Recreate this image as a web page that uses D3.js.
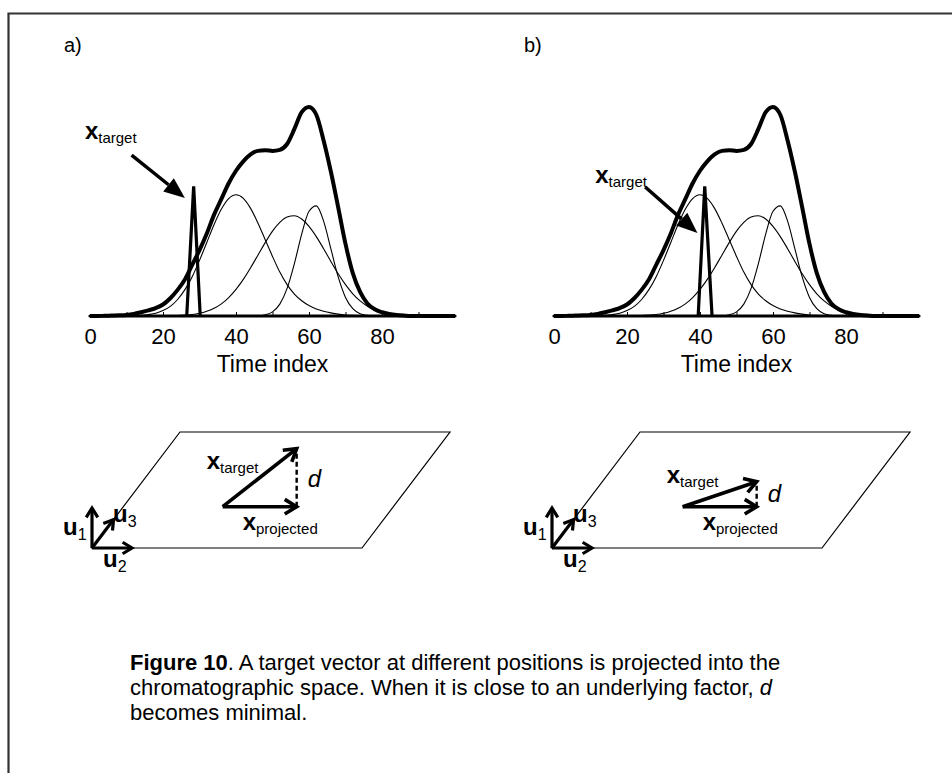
<!DOCTYPE html>
<html><head><meta charset="utf-8">
<script src="https://cdn.jsdelivr.net/npm/d3@7"></script>
<style>
body{margin:0;background:#fff}
svg{display:block}
text{font-family:"Liberation Sans",Arial,Helvetica,sans-serif;fill:#000}
</style>
</head><body>
<svg id="c" width="952" height="773"></svg>
<script>
// ---------------- data ----------------
const timeIdx = [0,2,4,6,8,10,12,14,16,18,20,22,24,26,28,30,32,34,36,38,40,42,44,46,48,50,52,54,56,58,60,62,64,66,68,70,72,74,76,78,80,82,84,86,88,90,92,94,96,98,100];
const totalSignal = [0,0,0.1,0.2,0.3,0.5,1.0,1.8,2.7,3.8,5.5,
  8.5,12.5,17.5,24.5,31.5,39.5,48.5,56,63.5,69.5,
  74,77.3,79,79.3,79,79.5,82.3,89.5,97.5,100,
  96.3,84,69,52,34.5,20.5,11.5,6,3.2,1.8,
  1.0,0.5,0.2,0,0,0,0,0,0,0];
const factor1 = [0,0,0,0,0,0,0.1,0.3,0.7,1.3,2.6,
  4.6,7.9,12.6,18.8,26.6,35.2,43.8,51.2,56.2,58,
  56.3,51.5,44.5,36.5,28.5,21,15,10.5,7.3,5,
  3.4,2.3,1.5,0.9,0.5,0.3,0.15,0,0,0,
  0,0,0,0,0,0,0,0,0,0];
const factor2 = [0,0,0,0,0,0,0,0,0,0,0.05,
  0.1,0.2,0.4,0.7,1.3,2.3,3.7,5.8,8.8,12.7,
  17.5,23.1,29.1,35.1,40.6,44.8,47.4,48,46.4,42.9,
  38,32.2,26.1,20.2,15,10.6,7.2,4.7,2.9,1.7,
  1.0,0.5,0.3,0.1,0,0,0,0,0,0];
const factor3 = [0,0,0,0,0,0,0,0,0,0,0,
  0,0,0,0,0,0,0,0,0,0,
  0,0,0.1,0.6,2,5.7,13.2,25.1,39.2,50.1,
  52.7,45.4,32.1,18.7,8.9,3.5,1.1,0.3,0,0,
  0,0,0,0,0,0,0,0,0,0];
const targetA_x = [26.5, 28.4, 30.2];
const targetB_x = [39.5, 41.3, 43.3];
const target_y  = [0, 62, 0];
const tickLabels = [0, 20, 40, 60, 80];
const minorTicks = [10, 20, 30, 40, 50, 60, 70, 80, 90];
const panelNames = ["a)", "b)"];
// diagram: projected vector in plane units, out-of-plane height of target (px)
const projStart = [0.368, 0.356];
const projEnd   = [0.642, 0.356];
const dHeight   = [58, 25];

// ---------------- drawing ----------------
const svg = d3.select("#c");
const FONT = '"Liberation Sans",Arial,Helvetica,sans-serif';

// frame (left and top edge)
svg.append("path").attr("d","M8.5,780 L8.5,13.5 L960,13.5")
  .attr("fill","none").attr("stroke","#333").attr("stroke-width",2.2);

const Y0 = 316, YTOP = 107;
const panels = [
  {x0: 90,  name: panelNames[0], tx: targetA_x, lab:[-1.4, 84.7], arr:[[11.4,77],[26,56.5]], nameX: 64},
  {x0: 554, name: panelNames[1], tx: targetB_x, lab:[11.3, 63.6], arr:[[25,61.7],[39.3,39.7]], nameX: 524}
];

function arrowHeadFilled(g, x1, y1, x2, y2, len, half){
  const a = Math.atan2(y2-y1, x2-x1);
  const bx = x2 - len*Math.cos(a), by = y2 - len*Math.sin(a);
  const px = -Math.sin(a)*half, py = Math.cos(a)*half;
  g.append("path").attr("d",`M${x2},${y2} L${bx+px},${by+py} L${bx-px},${by-py} Z`).attr("fill","#000");
  return [bx, by];
}

panels.forEach((p, i) => {
  const g = svg.append("g");
  const x = d3.scaleLinear().domain([0,100]).range([p.x0, p.x0+365]);
  const y = d3.scaleLinear().domain([0,100]).range([Y0, YTOP]);

  g.append("text").attr("x", p.nameX).attr("y", 52).attr("font-size", 20).text(p.name);

  const line = d3.line().x((d,k)=>x(timeIdx[k])).y(d=>y(d)).curve(d3.curveMonotoneX);
  [factor1, factor2, factor3].forEach(f => {
    g.append("path").attr("d", line(f)).attr("fill","none").attr("stroke","#000").attr("stroke-width",1.1);
  });
  g.append("path").attr("d", line(totalSignal)).attr("fill","none").attr("stroke","#000")
    .attr("stroke-width",4).attr("stroke-linejoin","round");

  // target spike
  const spike = d3.line().x((d,k)=>x(p.tx[k])).y(d=>y(d));
  g.append("path").attr("d", spike(target_y)).attr("fill","none").attr("stroke","#000")
    .attr("stroke-width",3.2).attr("stroke-linejoin","miter");

  // axis
  const ax = g.append("g").attr("transform",`translate(0,${Y0})`);
  ax.call(d3.axisBottom(x).tickValues(minorTicks).tickSize(-4).tickFormat(""));
  ax.select(".domain").remove();
  ax.selectAll(".tick line").attr("stroke","#000").attr("stroke-width",1);
  g.append("line").attr("x1",x(0)).attr("x2",x(100)).attr("y1",Y0).attr("y2",Y0)
    .attr("stroke","#000").attr("stroke-width",3.2).attr("stroke-linecap","round");
  const lab = g.append("g").attr("transform",`translate(0,${Y0})`);
  lab.call(d3.axisBottom(x).tickValues(tickLabels).tickSize(0).tickPadding(11).tickFormat(d3.format("d")));
  lab.select(".domain").remove();
  lab.selectAll("text").attr("font-size",22).attr("font-family",FONT).attr("fill","#000").attr("dy","0.75em");

  g.append("text").attr("x", x(50)).attr("y", 372).attr("text-anchor","middle")
    .attr("font-size",23).text("Time index");

  // x_target label + arrow
  const t = g.append("text").attr("x", x(p.lab[0])).attr("y", y(p.lab[1]));
  t.append("tspan").attr("font-weight","bold").attr("font-size",24).text("x");
  t.append("tspan").attr("font-size",15).attr("dy",4).text("target");
  const [a0, a1] = p.arr;
  const X1 = x(a0[0]), Y1 = y(a0[1]), X2 = x(a1[0]), Y2 = y(a1[1]);
  const [bx, by] = arrowHeadFilled(g, X1, Y1, X2, Y2, 21, 8.5);
  g.append("line").attr("x1",X1).attr("y1",Y1).attr("x2",bx).attr("y2",by)
    .attr("stroke","#000").attr("stroke-width",3.5);
});

// ---------------- projection diagrams ----------------
function chevron(g, x1, y1, x2, y2, len, sw){
  const a = Math.atan2(y2-y1, x2-x1);
  const s = 0.55;
  const p1 = [x2 - len*Math.cos(a - s), y2 - len*Math.sin(a - s)];
  const p2 = [x2 - len*Math.cos(a + s), y2 - len*Math.sin(a + s)];
  g.append("line").attr("x1",x1).attr("y1",y1).attr("x2",x2).attr("y2",y2)
    .attr("stroke","#000").attr("stroke-width",sw);
  g.append("path").attr("d",`M${p1[0]},${p1[1]} L${x2},${y2} L${p2[0]},${p2[1]}`)
    .attr("fill","none").attr("stroke","#000").attr("stroke-width",sw).attr("stroke-linejoin","miter");
}
function subLabel(g, xx, yy, main, sub, mainSize, subSize, dy){
  const t = g.append("text").attr("x", xx).attr("y", yy);
  t.append("tspan").attr("font-weight","bold").attr("font-size",mainSize).text(main);
  t.append("tspan").attr("font-size",subSize).attr("dy",dy).text(sub);
}

[92, 552].forEach((ox, i) => {
  const oy = 548;
  const g = svg.append("g");
  const W = 270, DX = 88, DY = -116;
  const P = (a, b) => [ox + a*W + b*DX, oy + b*DY];
  const corners = [[0,0],[1,0],[1,1],[0,1]].map(c => P(c[0], c[1]));
  g.append("path").attr("d", d3.line()(corners) + "Z").attr("fill","none")
    .attr("stroke","#000").attr("stroke-width",1.2);

  // basis vectors
  chevron(g, ox, oy, ox, oy-40, 11, 3.2);
  chevron(g, ox, oy, ox+40, oy, 11, 3.2);
  const u3 = P(0, 0.245);
  chevron(g, ox, oy, u3[0], u3[1], 11, 3.2);
  subLabel(g, ox-29, oy-13, "u", "1", 24, 16, 5);
  subLabel(g, ox+21, oy-26, "u", "3", 24, 16, 5);
  subLabel(g, ox+11, oy+19, "u", "2", 24, 16, 5);

  // projected / target vectors
  const s = P(projStart[0], projStart[1]);
  const e = P(projEnd[0], projEnd[1]);
  const h = dHeight[i];
  g.append("line").attr("x1",e[0]).attr("y1",e[1]).attr("x2",e[0]).attr("y2",e[1]-h)
    .attr("stroke","#000").attr("stroke-width",2.4).attr("stroke-dasharray","5,3");
  chevron(g, s[0], s[1], e[0], e[1], 14, 3.6);
  chevron(g, s[0], s[1], e[0], e[1]-h, 14, 3.6);

  subLabel(g, e[0]-54, e[1]+23, "x", "projected", 24, 15, 4);
  subLabel(g, s[0]-16, e[1]-h+ (i===0 ? 20 : 1), "x", "target", 24, 15, 4);
  g.append("text").attr("x", e[0]+11).attr("y", e[1]-h/2+ (i===0 ? 9 : 8))
    .attr("font-style","italic").attr("font-size",24).text("d");
});

// ---------------- caption ----------------
const cap = svg.append("g").attr("font-size",22);
const l1 = cap.append("text").attr("x",130).attr("y",670);
l1.append("tspan").attr("font-weight","bold").text("Figure 10");
l1.append("tspan").text(". A target vector at different positions is projected into the");
const l2 = cap.append("text").attr("x",130).attr("y",695);
l2.append("tspan").text("chromatographic space. When it is close to an underlying factor, ");
l2.append("tspan").attr("font-style","italic").text("d");
cap.append("text").attr("x",130).attr("y",720).text("becomes minimal.");
</script>
</body></html>
